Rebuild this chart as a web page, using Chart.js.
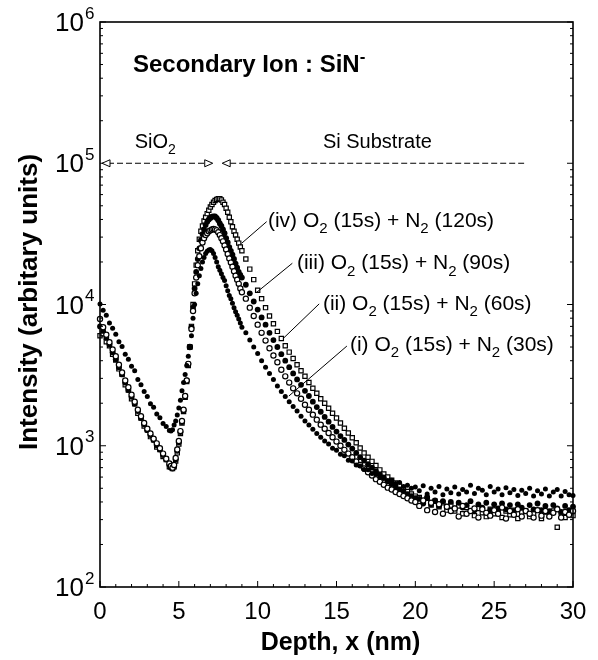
<!DOCTYPE html>
<html>
<head>
<meta charset="utf-8">
<script src="https://cdn.jsdelivr.net/npm/chart.js@4.4.0/dist/chart.umd.min.js"></script>
<style>
  html, body { margin: 0; padding: 0; background: #fff; }
  #wrap { width: 598px; height: 660px; position: relative; }
</style>
</head>
<body>
<div id="wrap"><canvas id="sims"></canvas></div>
<script>
// Depth grid of the profile (nm): coarse in the oxide, fine around the peak, coarse in the tail
const depthNm = [
  0, 0.2, 0.4, 0.6, 0.8, 1, 1.2, 1.4, 1.6, 1.8, 2, 2.2, 2.4, 2.6, 2.8, 3, 3.2, 3.4, 3.6, 3.8, 4, 4.2, 4.4,
  4.5, 4.6, 4.7, 4.8, 4.9, 5, 5.1, 5.2, 5.3, 5.4, 5.5, 5.6, 5.7, 5.8, 5.9, 6, 6.1, 6.2, 6.3, 6.4, 6.5, 6.6,
  6.7, 6.8, 6.9, 7, 7.1, 7.2, 7.3, 7.4, 7.5, 7.6, 7.7, 7.8, 7.9, 8, 8.1, 8.2, 8.3, 8.4, 8.5, 8.6, 8.7, 8.8, 8.9, 9,
  9.25, 9.5, 9.75, 10, 10.25, 10.5, 10.75, 11, 11.25, 11.5, 11.75, 12, 12.25, 12.5, 12.75, 13, 13.25, 13.5, 13.75, 14,
  14.25, 14.5, 14.75, 15, 15.25, 15.5, 15.75, 16, 16.25, 16.5, 16.75, 17, 17.25, 17.5, 17.75, 18, 18.25, 18.5, 18.75, 19,
  19.25, 19.5, 19.75, 20, 20.25, 20.5, 20.75, 21, 21.25, 21.5, 21.75, 22, 22.25, 22.5, 22.75, 23, 23.25, 23.5, 23.75, 24,
  24.25, 24.5, 24.75, 25, 25.25, 25.5, 25.75, 26, 26.25, 26.5, 26.75, 27, 27.25, 27.5, 27.75, 28, 28.25, 28.5, 28.75, 29,
  29.25, 29.5, 29.75, 30
];

// (i) O2 (15s) + N2 (30s)  - filled dots
const sinN2_30 = [
  10100, 9100, 8400, 7400, 6800, 6150, 5450, 5050, 4450, 4100, 3650, 3400, 2950, 2700, 2420, 2230, 1980, 1870, 1680, 1580, 1440, 1370, 1280,
  1270, 1300, 1400, 1500, 1650, 1850, 2100, 2450, 2800, 3200, 3700, 4300, 5000, 6000, 8000, 10000, 12000, 14000, 16000, 18000, 20000, 21500,
  23000, 23800, 24300, 24500, 24000, 23000, 21500, 20000, 18500, 17500, 16500, 15500, 14800, 13600, 12500, 11600, 11000, 10200, 9500, 8900, 8400, 7900, 7400, 6900,
  6300, 5600, 5000, 4500, 4000, 3600, 3250, 2950, 2650, 2420, 2230, 2050, 1900, 1760, 1620, 1500, 1400, 1310, 1220, 1150,
  1080, 1030, 960, 930, 870, 850, 790, 780, 730, 720, 680, 675, 635, 630, 595, 600, 565, 570, 540, 550,
  515, 525, 500, 510, 480, 520, 455, 500, 470, 515, 450, 495, 465, 510, 455, 490, 470, 525, 460, 500,
  485, 450, 515, 470, 495, 450, 505, 465, 490, 445, 485, 460, 500, 440, 480, 455, 495, 440, 470, 490,
  440, 475, 450, 445
];

// (ii) O2 (15s) + N2 (60s)  - open circles
const sinN2_60 = [
  7900, 6900, 6100, 5400, 4800, 4300, 3750, 3300, 2900, 2600, 2300, 2050, 1800, 1620, 1450, 1320, 1220, 1120, 1040, 960, 880, 810, 750,
  720, 700, 730, 820, 940, 1080, 1270, 1500, 1800, 2250, 2900, 3800, 5000, 6700, 9000, 12000, 15500, 19000, 22000, 25000, 27500, 29500,
  31000, 32000, 33000, 33500, 34000, 34200, 34000, 33500, 32500, 31000, 29500, 28000, 26200, 24500, 22800, 21200, 19800, 18500, 17200, 16000, 15000, 14000, 13000, 12200,
  11000, 9500, 8300, 7200, 6300, 5550, 4900, 4350, 3900, 3450, 3100, 2800, 2550, 2350, 2150, 1950, 1800, 1660, 1530, 1410,
  1320, 1230, 1150, 1070, 1000, 935, 880, 830, 775, 730, 690, 650, 615, 580, 555, 530, 505, 490, 470, 455,
  440, 425, 410, 400, 375, 410, 350, 395, 340, 385, 330, 370, 345, 360, 315, 375, 330, 345, 360, 310,
  355, 335, 320, 350, 330, 365, 305, 345, 325, 355, 315, 345, 330, 310, 350, 320, 345, 315, 335, 355,
  310, 340, 325, 345
];

// (iii) O2 (15s) + N2 (90s)  - filled dots, dense
const sinN2_90 = [
  7000, 6500, 5800, 5200, 4600, 4100, 3600, 3200, 2800, 2480, 2220, 1980, 1760, 1570, 1420, 1290, 1190, 1100, 1010, 940, 860, 800, 730,
  700, 690, 720, 800, 920, 1060, 1250, 1470, 1780, 2250, 2900, 3800, 5000, 6900, 9500, 13000, 17000, 21000, 25000, 28500, 31500, 34000,
  36500, 38500, 40000, 41000, 41800, 42000, 42000, 41000, 39500, 37500, 36000, 34000, 32000, 29500, 27500, 25500, 24000, 22500, 21000, 19500, 18200, 17000, 16200, 15500,
  13800, 12000, 10500, 9200, 8100, 7200, 6300, 5600, 5000, 4450, 4000, 3600, 3250, 2950, 2700, 2450, 2250, 2050, 1880, 1740,
  1600, 1480, 1360, 1260, 1170, 1100, 1020, 955, 890, 830, 785, 740, 700, 660, 625, 590, 560, 535, 515, 490,
  475, 455, 440, 425, 420, 390, 430, 385, 410, 375, 405, 370, 400, 360, 395, 365, 380, 405, 350, 385,
  365, 395, 350, 385, 360, 390, 355, 380, 345, 385, 365, 345, 380, 355, 390, 350, 375, 345, 380, 360,
  340, 375, 350, 370
];

// (iv) O2 (15s) + N2 (120s)  - open squares
const sinN2_120 = [
  6000, 6200, 5450, 5100, 4450, 4050, 3500, 3200, 2700, 2480, 2150, 1980, 1700, 1570, 1380, 1300, 1160, 1100, 980, 940, 840, 800, 710,
  710, 690, 710, 780, 890, 1030, 1220, 1450, 1750, 2200, 2850, 3700, 5000, 7000, 10000, 14000, 19000, 24000, 29000, 33000, 36000, 39000,
  41500, 44000, 46500, 49000, 51000, 53000, 54500, 55500, 56000, 56000, 55000, 53000, 51000, 48000, 45000, 41500, 38500, 35500, 33000, 31000, 29000, 27200, 25500, 24000,
  21000, 17800, 15000, 12600, 11000, 9500, 8300, 7300, 6450, 5750, 5100, 4600, 4150, 3750, 3400, 3100, 2800, 2550, 2350, 2150,
  2000, 1840, 1700, 1570, 1450, 1330, 1230, 1140, 1050, 965, 890, 830, 775, 725, 675, 630, 600, 570, 545, 520,
  495, 475, 455, 440, 430, 400, 425, 380, 405, 370, 395, 350, 380, 345, 375, 330, 365, 345, 320, 360,
  335, 315, 355, 330, 350, 310, 345, 325, 350, 305, 340, 345, 315, 330, 350, 305, 340, 320, 345, 265,
  335, 310, 340, 320
];

const seriesNames = ['(i) N2 30s', '(ii) N2 60s', '(iii) N2 90s', '(iv) N2 120s'];
const xTickValues = [0, 5, 10, 15, 20, 25, 30];
const yTickValues = [1e2, 1e3, 1e4, 1e5, 1e6];
const yTickExponents = ['2', '3', '4', '5', '6'];

const FONT = '"Liberation Sans", Arial, Helvetica, sans-serif';

// text pieces: leading "_" = subscript, "^" = superscript
const curveNotes = [
  { parts: ['(iv) O', '_2', ' (15s) + N', '_2', ' (120s)'], at: [10.65, 40300], from: [10.57, 38600], to: [8.98, 27100] },
  { parts: ['(iii) O', '_2', ' (15s) + N', '_2', ' (90s)'], at: [12.49, 20100], from: [12.2, 19600], to: [9.94, 12200] },
  { parts: ['(ii) O', '_2', ' (15s) + N', '_2', ' (60s)'], at: [14.14, 10400], from: [13.9, 10100], to: [11.62, 5750] },
  { parts: ['(i) O', '_2', ' (15s) + N', '_2', ' (30s)'], at: [15.85, 5330], from: [15.66, 5080], to: [11.98, 2250] }
];

function toPoints(values) {
  return values.map((v, i) => ({ x: depthNm[i], y: v }));
}

function drawParts(ctx, parts, x, y, size, bold) {
  let cx = x;
  parts.forEach(p => {
    let txt = p, dy = 0, fs = size;
    if (p[0] === '_') { txt = p.slice(1); fs = Math.round(size * 0.72); dy = size * 0.3; }
    else if (p[0] === '^') { txt = p.slice(1); fs = Math.round(size * 0.72); dy = -size * 0.42; }
    ctx.font = (bold ? 'bold ' : '') + fs + 'px ' + FONT;
    ctx.fillText(txt, cx, y + dy);
    cx += ctx.measureText(txt).width;
  });
  return cx;
}

function seg(ctx, x1, y1, x2, y2) {
  ctx.beginPath();
  ctx.moveTo(x1, y1);
  ctx.lineTo(x2, y2);
  ctx.stroke();
}

function openHead(ctx, tipX, y, dir) {
  // dir -1 points left, +1 points right
  ctx.beginPath();
  ctx.moveTo(tipX, y);
  ctx.lineTo(tipX - dir * 8, y - 3.5);
  ctx.lineTo(tipX - dir * 8, y + 3.5);
  ctx.closePath();
  ctx.fillStyle = '#fff';
  ctx.fill();
  ctx.setLineDash([]);
  ctx.stroke();
  ctx.fillStyle = '#000';
}

const figureDecor = {
  id: 'figureDecor',
  afterDraw(chart) {
    const { ctx, chartArea: a, scales: { x, y } } = chart;
    ctx.save();
    ctx.strokeStyle = '#000';
    ctx.fillStyle = '#000';

    // frame
    ctx.lineWidth = 1.6;
    ctx.strokeRect(a.left, a.top, a.right - a.left, a.bottom - a.top);

    // x ticks (inside): minor every 1 nm, major every 5
    ctx.lineWidth = 1;
    for (let v = 0; v <= 30; v++) {
      const px = x.getPixelForValue(v);
      const len = v % 5 === 0 ? 6 : 3;
      seg(ctx, px, a.bottom, px, a.bottom - len);
    }
    // y ticks on both sides, log minors
    for (let e = 2; e <= 6; e++) {
      for (let m = 1; m <= 9; m++) {
        if (e === 6 && m > 1) break;
        const py = y.getPixelForValue(m * Math.pow(10, e));
        const len = m === 1 ? 6 : 3;
        seg(ctx, a.left, py, a.left + len, py);
        seg(ctx, a.right, py, a.right - len, py);
      }
    }

    // tick labels
    ctx.textAlign = 'center';
    ctx.textBaseline = 'middle';
    ctx.font = '24px ' + FONT;
    xTickValues.forEach(v => ctx.fillText(String(v), x.getPixelForValue(v), 612));
    yTickValues.forEach((v, i) => {
      const py = y.getPixelForValue(v);
      ctx.textAlign = 'right';
      ctx.font = '26px ' + FONT;
      ctx.fillText('10', 84, py + 2);
      ctx.textAlign = 'left';
      ctx.font = '17px ' + FONT;
      ctx.fillText(yTickExponents[i], 85, py - 8);
    });

    // axis titles
    ctx.textAlign = 'center';
    ctx.font = 'bold 25px ' + FONT;
    ctx.fillText('Depth, x (nm)', (a.left + a.right) / 2 + 4, 643);
    ctx.save();
    ctx.translate(30, 302);
    ctx.rotate(-Math.PI / 2);
    ctx.font = 'bold 26px ' + FONT;
    ctx.fillText('Intensity (arbitary units)', 0, 0);
    ctx.restore();

    // in-plot title and layer captions
    ctx.textAlign = 'left';
    ctx.textBaseline = 'alphabetic';
    drawParts(ctx, ['Secondary Ion : SiN', '^-'], x.getPixelForValue(2.09), 72, 24, true);
    const capY = y.getPixelForValue(1e5) - 15;
    drawParts(ctx, ['SiO', '_2'], x.getPixelForValue(2.2), capY, 20, false);
    drawParts(ctx, ['Si Substrate'], x.getPixelForValue(14.14), capY, 20, false);

    // dashed extent arrows at the 1e5 level
    const ay = y.getPixelForValue(1e5);
    ctx.lineWidth = 1;
    ctx.setLineDash([6, 3]);
    seg(ctx, x.getPixelForValue(0) + 8, ay, x.getPixelForValue(7.15) - 8, ay);
    ctx.setLineDash([6, 3]);
    seg(ctx, x.getPixelForValue(7.75) + 8, ay, x.getPixelForValue(26.9), ay);
    openHead(ctx, x.getPixelForValue(0) + 2, ay, -1);
    openHead(ctx, x.getPixelForValue(7.15), ay, 1);
    openHead(ctx, x.getPixelForValue(7.75), ay, -1);

    // curve labels with leader lines
    curveNotes.forEach(n => {
      seg(ctx, x.getPixelForValue(n.from[0]), y.getPixelForValue(n.from[1]),
               x.getPixelForValue(n.to[0]), y.getPixelForValue(n.to[1]));
      const size = 21;
      drawParts(ctx, n.parts, x.getPixelForValue(n.at[0]), y.getPixelForValue(n.at[1]) + size * 0.36, size, false);
    });

    ctx.restore();
  }
};

document.addEventListener('DOMContentLoaded', () => {
  const ctx = document.getElementById('sims').getContext('2d');
  new Chart(ctx, {
    type: 'scatter',
    data: {
      datasets: [
        {
          label: seriesNames[0],
          data: toPoints(sinN2_30),
          pointStyle: 'circle', pointRadius: 2.5,
          backgroundColor: '#000', borderColor: '#000', borderWidth: 0,
          clip: 6
        },
        {
          label: seriesNames[1],
          data: toPoints(sinN2_60),
          pointStyle: 'circle', pointRadius: 2.6,
          backgroundColor: '#fff', borderColor: '#000', borderWidth: 1.2,
          clip: 6
        },
        {
          label: seriesNames[2],
          data: toPoints(sinN2_90),
          pointStyle: 'circle', pointRadius: 2.9,
          backgroundColor: '#000', borderColor: '#000', borderWidth: 0,
          clip: 6
        },
        {
          label: seriesNames[3],
          data: toPoints(sinN2_120),
          pointStyle: 'rect', pointRadius: 3,
          backgroundColor: '#fff', borderColor: '#000', borderWidth: 1.2,
          clip: 6
        }
      ]
    },
    options: {
      responsive: true,
      maintainAspectRatio: false,
      animation: false,
      layout: { padding: { left: 100, right: 25, top: 22, bottom: 73 } },
      plugins: { legend: { display: false }, tooltip: { enabled: false } },
      scales: {
        x: { type: 'linear', min: 0, max: 30, display: false },
        y: { type: 'logarithmic', min: 1e2, max: 1e6, display: false }
      }
    },
    plugins: [figureDecor]
  });
});
</script>
</body>
</html>
